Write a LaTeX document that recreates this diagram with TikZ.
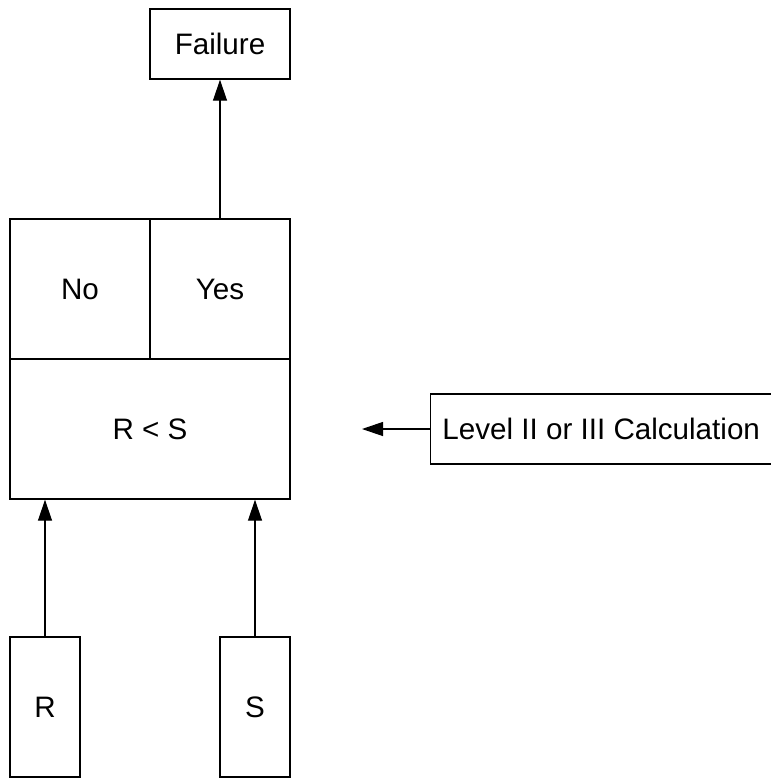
\documentclass[tikz,border=0pt]{standalone}
\usepackage{fontspec}
\setmainfont{Liberation Sans}
\usepackage{tikz}
\usetikzlibrary{arrows.meta, positioning, calc}

\begin{document}
\begin{tikzpicture}[
    x=0.5pt, y=-0.5pt,
    box/.style={rectangle, draw, line width=0.7pt, inner sep=0pt,
      font=\fontsize{14.8}{17}\selectfont},
    wide/.style={box, minimum width=70pt, minimum height=35pt},
    cell/.style={box, minimum width=70pt, minimum height=70pt},
    tall/.style={box, minimum width=35pt, minimum height=70pt},
    link/.style={draw, line width=0.6pt, -{Triangle[width=7pt, length=10.5pt]}}]
  \useasboundingbox (0,0) rectangle (771,778);
  % outcome and the limit state
  \node[wide] (fail) at (220,44) {Failure};
  \node[cell] (no)  at (80,289)  {No};
  \node[cell] (yes) at (220,289) {Yes};
  \node[box, minimum width=140pt, minimum height=70pt] (cmp) at (150,429) {R < S};
  % method
  \node[box, minimum width=170.5pt, minimum height=35pt, anchor=west] (lvl) at (430,429) {Level II or III Calculation};
  \coordinate (tip) at (362,429);
  % variables
  \node[tall] (r) at (45,707)  {R};
  \node[tall] (s) at (255,707) {S};
  \draw[link] (yes.north) -- (fail.south);
  \draw[link] (lvl.west) -- (tip);
  \draw[link] (r.north) -- (r.north |- cmp.south);
  \draw[link] (s.north) -- (s.north |- cmp.south);
\end{tikzpicture}
\end{document}
